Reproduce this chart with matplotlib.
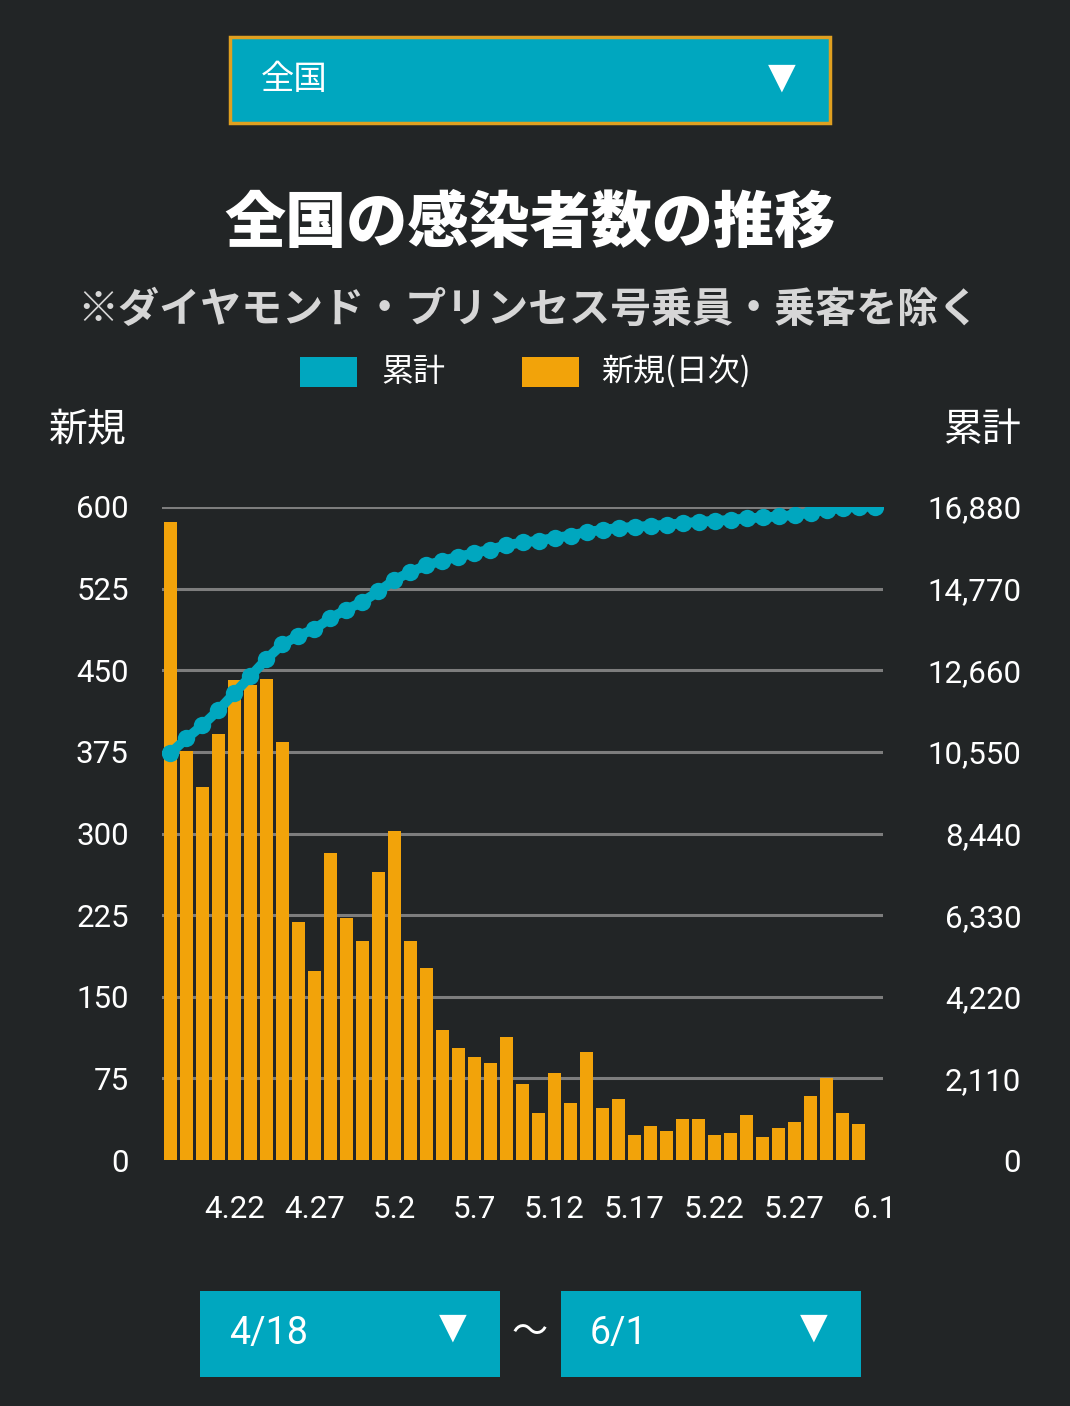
import pandas as pd
import matplotlib.pyplot as plt
from matplotlib.patches import Rectangle

# 日別の新規感染者数 (4/18 - 6/1)
days = pd.date_range("2020-04-18", "2020-06-01")
new_cases = [586, 376, 343, 391, 441, 436, 442, 384, 219, 174, 282, 222, 201, 265, 302,
             201, 176, 119, 103, 95, 89, 113, 70, 43, 80, 52, 99, 48, 56, 23,
             31, 27, 38, 38, 23, 25, 41, 21, 29, 35, 59, 75, 43, 33, 0]
# 累計
total_cases = [10520, 10896, 11239, 11630, 12071, 12507, 12949, 13333, 13552, 13726,
               14008, 14230, 14431, 14696, 14998, 15199, 15375, 15494, 15597, 15692,
               15781, 15894, 15964, 16007, 16087, 16139, 16238, 16286, 16342, 16365,
               16396, 16423, 16461, 16499, 16522, 16547, 16588, 16609, 16638, 16673,
               16732, 16807, 16850, 16883, 16883]
left_ticks = [0, 75, 150, 225, 300, 375, 450, 525, 600]
right_ticks = [0, 2110, 4220, 6330, 8440, 10550, 12660, 14770, 16880]
x_ticks = ["4.22", "4.27", "5.2", "5.7", "5.12", "5.17", "5.22", "5.27", "6.1"]

BG = "#222526"
TEAL = "#00a7bf"
ORANGE = "#f2a30a"
GRID = "#7d7d7d"
JP = ["Noto Sans CJK JP", "DejaVu Sans"]
NUM = ["Roboto", "DejaVu Sans"]

W, H = 1070, 1406


def fx(px):
    return px / W


def fy(py):
    return 1 - py / H


fig = plt.figure(figsize=(W / 100, H / 100), dpi=100, facecolor=BG)

# 上のセレクトボックス
fig.patches.append(Rectangle((fx(230), fy(123)), fx(600), 86 / H, transform=fig.transFigure,
                             facecolor=TEAL, edgecolor="#e0a020", linewidth=2.5))
fig.text(fx(261), fy(80), "全国", color="white", fontsize=24, family=JP, va="center")
fig.text(fx(782), fy(78), "▼", color="white", fontsize=26, family=["DejaVu Sans"],
         ha="center", va="center")

# タイトル
fig.text(fx(530), fy(224), "全国の感染者数の推移", color="white", fontsize=44,
         weight="heavy", family=JP, ha="center", va="center")
fig.text(fx(528), fy(310), "※ダイヤモンド・プリンセス号乗員・乗客を除く", color="#d6d6d6",
         fontsize=29.5, weight="bold", family=JP, ha="center", va="center")

# 凡例
fig.patches.append(Rectangle((fx(300), fy(387)), fx(57), 30 / H, transform=fig.transFigure,
                             facecolor=TEAL))
fig.text(fx(381), fy(372), "累計", color="white", fontsize=23, family=JP, va="center")
fig.patches.append(Rectangle((fx(522), fy(387)), fx(57), 30 / H, transform=fig.transFigure,
                             facecolor=ORANGE))
fig.text(fx(601), fy(372), "新規(日次)", color="white", fontsize=23, family=JP, va="center")

fig.text(fx(49), fy(430), "新規", color="white", fontsize=28, family=JP, va="center")
fig.text(fx(1021), fy(430), "累計", color="white", fontsize=28, family=JP, va="center",
         ha="right")

# グラフ本体
ax = fig.add_axes([fx(162), fy(1160), fx(883 - 162), (1160 - 507) / H])
ax.set_facecolor(BG)
x = list(range(len(days)))
ax.bar(x, new_cases, width=0.8, color=ORANGE, zorder=2)
ax.set_ylim(0, 600)
ax.set_xlim(-0.53, 44.53)
ax.set_yticks(left_ticks)
ax.set_yticklabels([str(v) for v in left_ticks])
ax.grid(axis="y", color=GRID, linewidth=2.2, zorder=1)
ax.yaxis.get_gridlines()[0].set_visible(False)
ax.set_xticks(x[4::5])
ax.set_xticklabels(x_ticks)
ax.tick_params(axis="both", length=0, colors="white", labelsize=22.5)
ax.tick_params(axis="y", pad=24)
ax.tick_params(axis="x", pad=25)
for lab in ax.get_xticklabels() + ax.get_yticklabels():
    lab.set_family(NUM)
for s in ax.spines.values():
    s.set_visible(False)

ax2 = ax.twinx()
ax2.plot(x, total_cases, color=TEAL, linewidth=7, marker="o", markersize=12.5,
         markeredgewidth=0, zorder=3)
ax2.set_ylim(0, 16880)
ax2.set_yticks(right_ticks)
ax2.set_yticklabels([f"{v:,}" for v in right_ticks])
ax2.tick_params(axis="y", length=0, colors="white", labelsize=22.5, pad=99.5)
for lab in ax2.get_yticklabels():
    lab.set_horizontalalignment("right")
    lab.set_family(NUM)
for s in ax2.spines.values():
    s.set_visible(False)

# 下の期間セレクト
for left, label in [(200, "4/18"), (561, "6/1")]:
    fig.patches.append(Rectangle((fx(left), fy(1377)), fx(300), 86 / H,
                                 transform=fig.transFigure, facecolor=TEAL))
    fig.text(fx(left + 29), fy(1333), label, color="white", fontsize=27, family=NUM,
             va="center")
    fig.text(fx(left + 253), fy(1328), "▼", color="white", fontsize=26,
             family=["DejaVu Sans"], ha="center", va="center")
fig.text(fx(530), fy(1333), "〜", color="white", fontsize=26, family=JP,
         ha="center", va="center")

fig.savefig("out.png", dpi=100, facecolor=BG)
